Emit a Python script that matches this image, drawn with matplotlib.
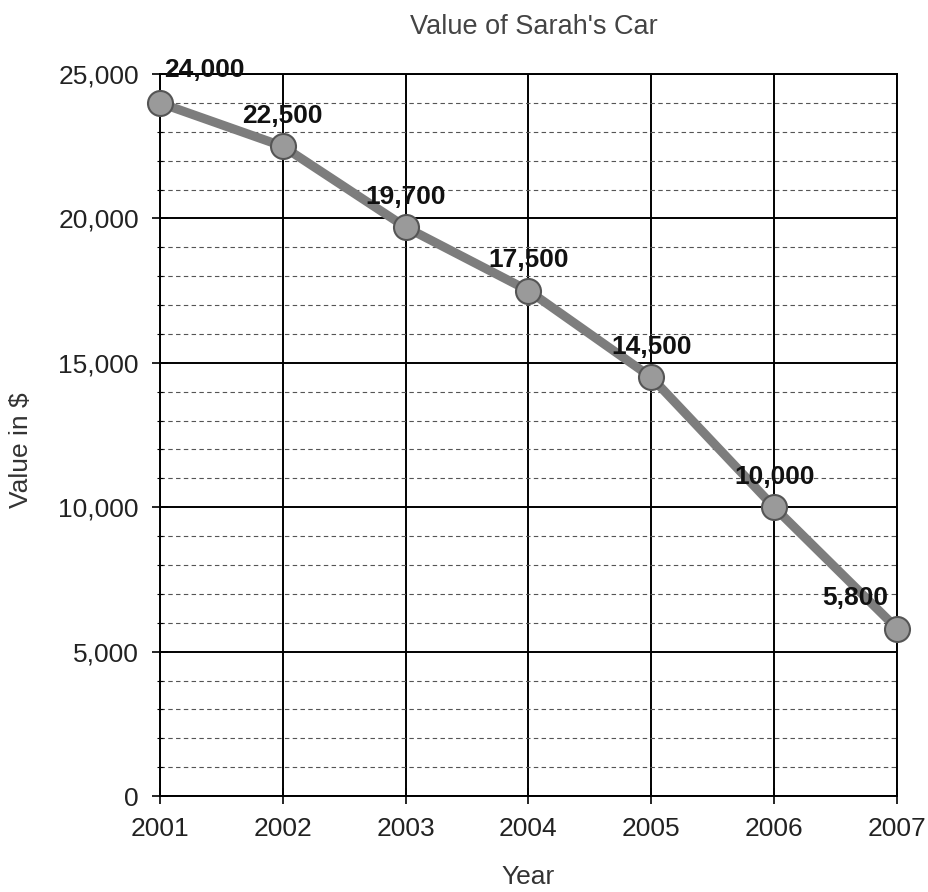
import matplotlib
matplotlib.use("Agg")
import matplotlib.pyplot as plt
from matplotlib.ticker import MultipleLocator, FuncFormatter

plt.rcParams['font.family'] = ['Liberation Sans', 'DejaVu Sans']

# data
years = [2001, 2002, 2003, 2004, 2005, 2006, 2007]
values = [24000, 22500, 19700, 17500, 14500, 10000, 5800]
# label offsets in points (x, y) relative to each point
label_dx = [32, 0, 0, 0, 0, 0, -30]
label_dy = [24, 22, 22, 22, 22, 22, 22]

fig = plt.figure(figsize=(9.29, 8.92), dpi=100)
ax = fig.add_axes([0.172, 0.1076, 0.7936, 0.8094])

ax.set_xlim(2001, 2007)
ax.set_ylim(0, 25000)

ax.yaxis.set_major_locator(MultipleLocator(5000))
ax.yaxis.set_minor_locator(MultipleLocator(1000))
ax.xaxis.set_major_locator(MultipleLocator(1))
ax.yaxis.set_major_formatter(FuncFormatter(lambda v, p: f"{int(v):,}"))
ax.xaxis.set_major_formatter(FuncFormatter(lambda v, p: f"{int(v)}"))

ax.grid(which='major', axis='both', color='black', lw=1.4)
ax.grid(which='minor', axis='y', color='#555555', lw=0.8, linestyle=(0, (4, 3)))
ax.set_axisbelow(True)

for s in ax.spines.values():
    s.set_color('black')
    s.set_linewidth(1.4)

ax.tick_params(axis='both', which='major', direction='inout', length=12,
               width=1.2, labelsize=19, labelcolor='#222222')
ax.tick_params(axis='y', which='major', pad=9)
ax.tick_params(axis='x', which='major', pad=9)
ax.tick_params(axis='y', which='minor', direction='inout', length=4, width=0.8)

ax.plot(years, values, color='#7d7d7d', lw=6.5, marker='o', markersize=18,
        markerfacecolor='#9a9a9a', markeredgecolor='#555555', markeredgewidth=1.5,
        zorder=5, clip_on=False)

for x, v, dx, dy in zip(years, values, label_dx, label_dy):
    ax.annotate(f"{v:,}", (x, v), xytext=(dx, dy), textcoords='offset points',
                ha='center', va='center', fontsize=19, fontweight='bold',
                color='#111111', zorder=6, annotation_clip=False)

ax.set_ylabel("Value in $", fontsize=19, color='#333333')
ax.yaxis.set_label_coords(-0.172, 0.479)
ax.set_xlabel("Year", fontsize=19, color='#333333')
ax.xaxis.set_label_coords(0.5, -0.096)

fig.text(0.575, 0.97, "Value of Sarah's Car", ha='center', va='center',
         fontsize=19.5, color='#444444')

fig.savefig("out.png", dpi=100)
